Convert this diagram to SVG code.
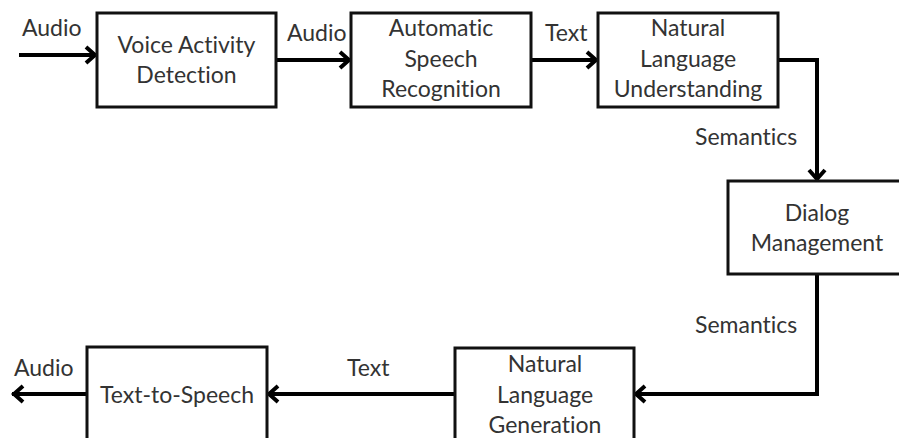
<svg xmlns="http://www.w3.org/2000/svg" width="899" height="438" viewBox="0 0 899 438">
  <style>
    .box { fill: #fff; stroke: #111; stroke-width: 3; }
    .lbl { font-family: Lato, "Open Sans", "Liberation Sans", sans-serif; font-size: 23px; fill: #333; font-variant-ligatures: none; font-feature-settings: "liga" 0; }
    .mid { text-anchor: middle; }
    .wire { fill: none; stroke: #000; stroke-width: 4; stroke-linejoin: miter; }
  </style>
  <defs>
    <marker id="head" viewBox="-14 -10 16 20" refX="0" refY="0" markerWidth="16" markerHeight="20" markerUnits="userSpaceOnUse" orient="auto">
      <path d="M-11,-8 L-2,0 L-11,8" fill="none" stroke="#000" stroke-width="4" stroke-linejoin="miter" stroke-miterlimit="10"/>
    </marker>
  </defs>
  <rect width="899" height="438" fill="#fff"/>

  <g id="connectors">
    <path class="wire" d="M19,55 H97" marker-end="url(#head)"/>
    <path class="wire" d="M276,60 H351" marker-end="url(#head)"/>
    <path class="wire" d="M531,60 H598" marker-end="url(#head)"/>
    <path class="wire" d="M778,60 H817 V181" marker-end="url(#head)"/>
    <path class="wire" d="M817,274 V394 H634" marker-end="url(#head)"/>
    <path class="wire" d="M455,394 H267" marker-end="url(#head)"/>
    <path class="wire" d="M87,394 H12" marker-end="url(#head)"/>
    <text class="lbl" x="22" y="36">Audio</text>
    <text class="lbl" x="287" y="41">Audio</text>
    <text class="lbl" x="545" y="41">Text</text>
    <text class="lbl" x="695" y="145">Semantics</text>
    <text class="lbl" x="695" y="333">Semantics</text>
    <text class="lbl" x="347" y="376">Text</text>
    <text class="lbl" x="14" y="376">Audio</text>
  </g>

  <g id="vad">
    <rect class="box" x="97" y="13" width="179" height="94"/>
    <text class="lbl mid" x="186.5" y="53">Voice Activity</text>
    <text class="lbl mid" x="186.5" y="83">Detection</text>
  </g>
  <g id="asr">
    <rect class="box" x="351" y="13" width="180" height="94"/>
    <text class="lbl mid" x="441" y="36">Automatic</text>
    <text class="lbl mid" x="441" y="67">Speech</text>
    <text class="lbl mid" x="441" y="97">Recognition</text>
  </g>
  <g id="nlu">
    <rect class="box" x="598" y="13" width="180" height="94"/>
    <text class="lbl mid" x="688" y="36">Natural</text>
    <text class="lbl mid" x="688" y="67">Language</text>
    <text class="lbl mid" x="688" y="97">Understanding</text>
  </g>
  <g id="dm">
    <rect class="box" x="728" y="181" width="178" height="93"/>
    <text class="lbl mid" x="817" y="221">Dialog</text>
    <text class="lbl mid" x="817" y="251">Management</text>
  </g>
  <g id="nlg">
    <rect class="box" x="455" y="348" width="179" height="94"/>
    <text class="lbl mid" x="545" y="372">Natural</text>
    <text class="lbl mid" x="545" y="403">Language</text>
    <text class="lbl mid" x="545" y="433">Generation</text>
  </g>
  <g id="tts">
    <rect class="box" x="87" y="347" width="180" height="94"/>
    <text class="lbl mid" x="177" y="403">Text-to-Speech</text>
  </g>
</svg>
